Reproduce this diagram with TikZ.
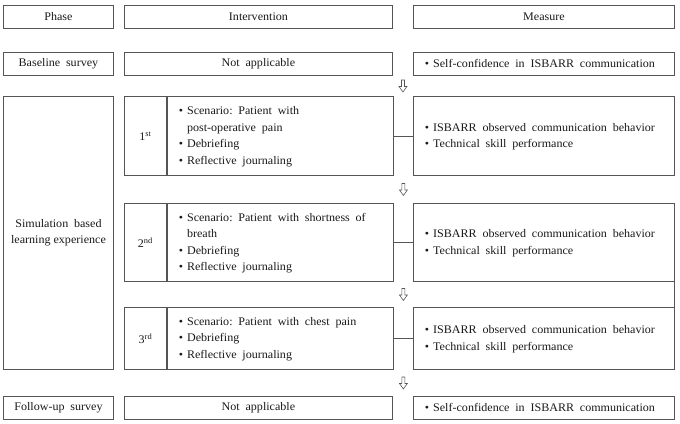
\documentclass[tikz,border=0pt]{standalone}
\usepackage{fontspec}
\setmainfont{Liberation Serif}[FakeStretch=1.04]
\usetikzlibrary{calc}
\definecolor{linec}{HTML}{555555}
\definecolor{txtc}{HTML}{1A1A1A}
\newcommand{\bl}{\textbullet}
\newcommand{\myfnt}{\fontsize{11.6}{16.5}\selectfont}
\newcommand{\wsp}{\frenchspacing\spaceskip=5.8pt plus 1pt minus 1pt\xspaceskip=5.8pt plus 1pt\relax}
\newcommand{\blist}[1]{\wsp\begin{tabular}{@{}l@{\hspace{4pt}}l@{}}#1\end{tabular}}
\begin{document}
\begin{tikzpicture}[x=1pt,y=-1pt,
  every node/.style={font=\myfnt, text=txtc},
  box/.style={draw=linec, line width=0.9pt, inner sep=0pt, anchor=north west, align=center},
  listbox/.style={box, align=left, inner xsep=11.5pt},
  link/.style={draw=linec, line width=0.9pt},
  harrow/.pic={\draw[linec, line width=0.6pt, line join=miter, fill=white]
     (-1.5,-6) -- (1.5,-6) -- (1.5,0.5) -- (4,0.5) -- (0,6) -- (-4,0.5) -- (-1.5,0.5) -- cycle;}
]
\useasboundingbox (0,0) rectangle (680,423);
% header row
\node[box, minimum width=110, minimum height=23] (hp) at (3,5) {Phase};
\node[box, minimum width=268, minimum height=23] (hi) at (124,5) {Intervention};
\node[box, minimum width=261, minimum height=23] (hm) at (413,5) {Measure};
% baseline
\node[box, minimum width=110, minimum height=23] (bp) at (3,52) {\wsp Baseline survey};
\node[box, minimum width=268, minimum height=23] (bi) at (124,52) {\wsp Not applicable};
\node[listbox, minimum width=261, minimum height=23, text width=238] (bm) at (413,52) {\blist{\bl & Self-confidence in ISBARR communication}};
% simulation phase
\node[box, minimum width=110, minimum height=273] (sp) at (3,96) {\wsp Simulation based\\learning experience};
% 1st
\node[box, minimum width=42, minimum height=79] (n1) at (124,96) {1\textsuperscript{st}};
\node[listbox, minimum width=226, minimum height=79, text width=203] (i1) at (n1.north east) {\blist{\bl & Scenario: Patient with\\ & post-operative pain\\ \bl & Debriefing\\ \bl & Reflective journaling}};
\node[listbox, minimum width=261, minimum height=79, text width=238] (m1) at (413,96) {\blist{\bl & ISBARR observed communication behavior\\ \bl & Technical skill performance}};
% 2nd
\node[box, minimum width=42, minimum height=78] (n2) at (124,203) {2\textsuperscript{nd}};
\node[listbox, minimum width=226, minimum height=78, text width=203] (i2) at (n2.north east) {\blist{\bl & Scenario: Patient with shortness of\\ & breath\\ \bl & Debriefing\\ \bl & Reflective journaling}};
\node[listbox, minimum width=261, minimum height=78, text width=238] (m2) at (413,203) {\blist{\bl & ISBARR observed communication behavior\\ \bl & Technical skill performance}};
% 3rd
\node[box, minimum width=42, minimum height=62] (n3) at (124,307) {3\textsuperscript{rd}};
\node[listbox, minimum width=226, minimum height=62, text width=203] (i3) at (n3.north east) {\blist{\bl & Scenario: Patient with chest pain\\ \bl & Debriefing\\ \bl & Reflective journaling}};
\node[listbox, minimum width=261, minimum height=62, text width=238] (m3) at (413,307) {\blist{\bl & ISBARR observed communication behavior\\ \bl & Technical skill performance}};
% follow-up
\node[box, minimum width=110, minimum height=23] (fp) at (3,396) {\wsp Follow-up survey};
\node[box, minimum width=268, minimum height=23] (fi) at (124,396) {\wsp Not applicable};
\node[listbox, minimum width=261, minimum height=23, text width=238] (fm) at (413,396) {\blist{\bl & Self-confidence in ISBARR communication}};
% connectors
\draw[link] (i1.east) -- (m1.west);
\draw[link] (i2.east) -- (m2.west);
\draw[link] (i3.east) -- (m3.west);
\draw[link] (m2.south east) -- (m3.north east);
% flow arrows
\pic at ($(bi.south east)!0.5!(m1.north west)$) {harrow};
\pic at ($(i1.south east)!0.5!(m2.north west)$) {harrow};
\pic at ($(i2.south east)!0.5!(m3.north west)$) {harrow};
\pic at ($(i3.south east)!0.5!(fm.north west)$) {harrow};
\end{tikzpicture}
\end{document}
